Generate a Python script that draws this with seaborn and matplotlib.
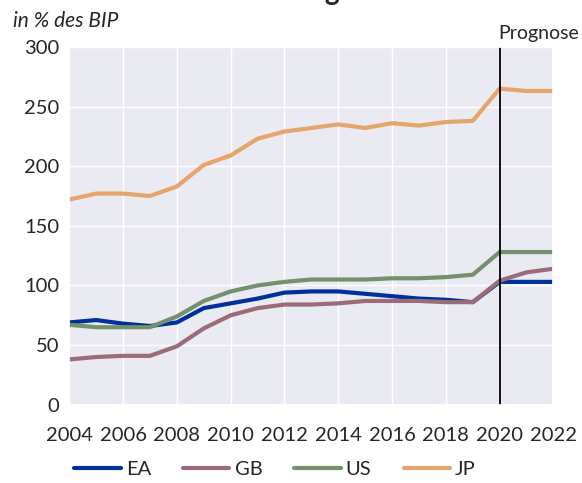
import matplotlib
matplotlib.use('Agg')
import matplotlib.pyplot as plt
import seaborn as sns
import pandas as pd

years = list(range(2004, 2023))
ea = [69, 71, 68, 66, 69, 81, 85, 89, 94, 95, 95, 93, 91, 89, 88, 86, 103, 103, 103]
gb = [38, 40, 41, 41, 49, 64, 75, 81, 84, 84, 85, 87, 87, 87, 86, 86, 104, 111, 114]
us = [67, 65, 65, 65, 74, 87, 95, 100, 103, 105, 105, 105, 106, 106, 107, 109, 128, 128, 128]
jp = [172, 177, 177, 175, 183, 201, 209, 223, 229, 232, 235, 232, 236, 234, 237, 238, 265, 263, 263]
series = ['EA', 'GB', 'US', 'JP']
colors = ['#00309a', '#9b6b78', '#74906c', '#e5a56b']
forecast_year = 2020

df = pd.DataFrame({'Jahr': years, 'EA': ea, 'GB': gb, 'US': us, 'JP': jp})
long = df.melt(id_vars='Jahr', var_name='Land', value_name='Wert')

sns.set_theme(style='darkgrid')
plt.rcParams['font.family'] = ['Lato', 'DejaVu Sans']

fig, ax = plt.subplots(figsize=(5.82, 4.83), dpi=100)
fig.subplots_adjust(left=0.119, right=0.951, top=0.903, bottom=0.162)

sns.lineplot(data=long, x='Jahr', y='Wert', hue='Land', hue_order=series,
             palette=colors, linewidth=3, ax=ax)
ax.axvline(forecast_year, color='black', linewidth=1.3)

ax.set_xlim(2004, 2022)
ax.set_ylim(0, 300)
ax.set_xticks(range(2004, 2023, 2))
ax.set_yticks(range(0, 301, 50))
ax.tick_params(axis='y', labelsize=14.5, pad=7, length=0)
ax.tick_params(axis='x', labelsize=14.5, pad=16, length=0)
ax.set_xlabel('')
ax.set_ylabel('')

ax.text(2019.95, 304, 'Prognose', fontsize=14, ha='left', va='bottom')
fig.text(0.022, 0.978, 'in % des BIP', fontsize=15, style='italic', ha='left', va='top')
fig.text(0.584, 1.0, 'Staatsverschuldung', fontsize=20, fontweight='bold',
         ha='right', va='baseline')

leg = ax.legend(loc='upper center', bbox_to_anchor=(0.425, -0.128), ncol=4, frameon=False,
                fontsize=14.5, handlelength=2.3, columnspacing=1.6, handletextpad=0.25,
                borderpad=0)
for h in leg.get_lines():
    h.set_linewidth(3)

fig.savefig('out.png', dpi=100)
